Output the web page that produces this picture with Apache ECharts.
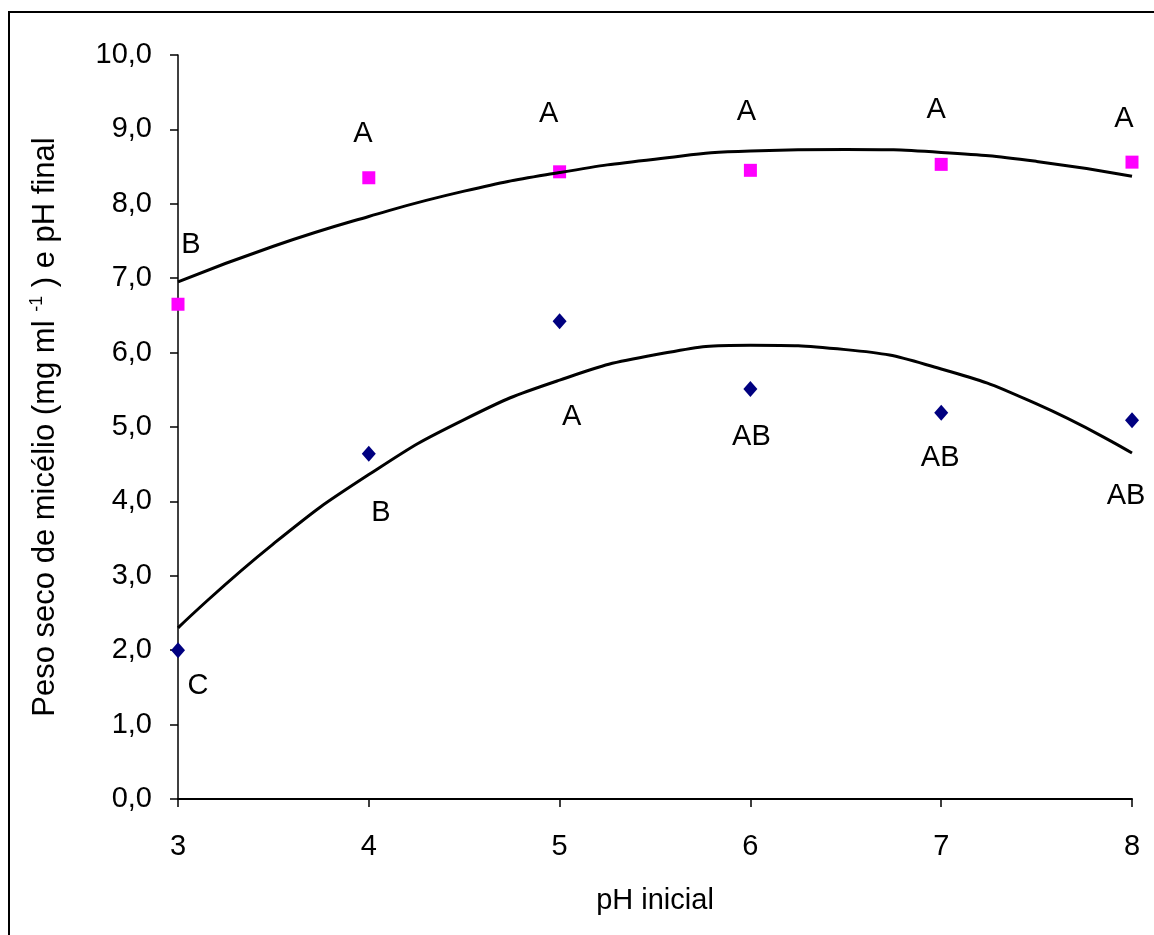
<!DOCTYPE html>
<html>
<head>
<meta charset="utf-8">
<script src="https://cdn.jsdelivr.net/npm/echarts/dist/echarts.min.js"></script>
<style>
  html, body { margin: 0; padding: 0; background: #fff; }
  #chart { width: 1154px; height: 935px; }
</style>
</head>
<body>
<div id="chart"></div>
<script>
// pH inicial (eixo x)
const phInicial = [3, 4, 5, 6, 7, 8]
// pH final (quadrados rosa)
const phFinal = [6.65, 8.35, 8.43, 8.45, 8.53, 8.56]
// peso seco de micélio (losangos azuis)
const pesoSeco = [2.0, 4.64, 6.42, 5.51, 5.19, 5.09]
// letras de significância
const letrasPh = ['B', 'A', 'A', 'A', 'A', 'A']
const letrasPeso = ['C', 'B', 'A', 'AB', 'AB', 'AB']
// curvas de tendência
const curvaX = [3, 3.5, 4, 4.5, 5, 5.5, 6, 6.5, 7, 7.5, 8]
const curvaPh = [6.95, 7.43, 7.83, 8.17, 8.42, 8.6, 8.71, 8.73, 8.69, 8.57, 8.37]
const curvaPeso = [2.3, 3.43, 4.36, 5.1, 5.63, 5.97, 6.1, 6.04, 5.78, 5.31, 4.65]

// label offsets (px) relative to each marker
const offPh = [[13, -59], [-6, -44], [-11, -58], [-4, -58], [-5, -54], [-8, -43]]
const offPeso = [[20, 36], [12, 59], [12, 96], [1, 48], [-1, 45], [-6, 76]]

const font = 'Liberation Sans, Arial, sans-serif'
const fs = 29

const chart = echarts.init(document.getElementById('chart'))

const labelStyle = {
  show: true,
  position: 'inside',
  color: '#000',
  fontFamily: font,
  fontSize: fs,
}

const option = {
  backgroundColor: '#fff',
  animation: false,
  graphic: [
    {
      type: 'rect',
      silent: true,
      z: -1,
      shape: { x: 9, y: 12, width: 1300, height: 1000 },
      style: { fill: 'none', stroke: '#000', lineWidth: 2 },
    },
  ],
  grid: { left: 178, right: 22, top: 55, bottom: 136 },
  xAxis: {
    type: 'value',
    min: 3,
    max: 8,
    interval: 1,
    name: 'pH inicial',
    nameLocation: 'middle',
    nameGap: 87,
    nameTextStyle: { color: '#000', fontFamily: font, fontSize: fs },
    splitLine: { show: false },
    axisLine: { onZero: false, lineStyle: { color: '#000', width: 2 } },
    axisTick: { show: true, length: 8, lineStyle: { color: '#000', width: 1.5 } },
    axisLabel: { color: '#000', fontFamily: font, fontSize: fs, margin: 33 },
  },
  yAxis: {
    type: 'value',
    min: 0,
    max: 10,
    interval: 1,
    name: 'Peso seco de micélio (mg ml {sup|-1} ) e pH final',
    nameLocation: 'middle',
    nameGap: 116,
    nameTextStyle: {
      color: '#000',
      fontFamily: font,
      fontSize: 31,
      lineHeight: 34,
      rich: {
        sup: { fontSize: 18, fontFamily: font, color: '#000', verticalAlign: 'top', lineHeight: 34, padding: [0, 0, 15, 0] },
      },
    },
    splitLine: { show: false },
    axisLine: { show: true, lineStyle: { color: '#000', width: 1.5 } },
    axisTick: { show: true, length: 8, lineStyle: { color: '#000', width: 1.5 } },
    axisLabel: {
      color: '#000',
      fontFamily: font,
      fontSize: fs,
      margin: 26,
      formatter: (v) => v.toFixed(1).replace('.', ','),
    },
  },
  series: [
    {
      type: 'scatter',
      clip: false,
      symbol: 'rect',
      symbolSize: 13,
      itemStyle: { color: '#ff00ff', opacity: 1 },
      label: { ...labelStyle, formatter: (p) => letrasPh[p.dataIndex] },
      data: phInicial.map((x, i) => ({ value: [x, phFinal[i]], label: { offset: offPh[i] } })),
    },
    {
      type: 'scatter',
      clip: false,
      symbol: 'diamond',
      symbolSize: [14, 16],
      itemStyle: { color: '#000080', opacity: 1 },
      label: { ...labelStyle, formatter: (p) => letrasPeso[p.dataIndex] },
      data: phInicial.map((x, i) => ({ value: [x, pesoSeco[i]], label: { offset: offPeso[i] } })),
    },
    {
      type: 'line',
      smooth: true,
      symbol: 'none',
      z: 3,
      lineStyle: { color: '#000', width: 3 },
      data: curvaX.map((x, i) => [x, curvaPh[i]]),
    },
    {
      type: 'line',
      smooth: true,
      symbol: 'none',
      z: 3,
      lineStyle: { color: '#000', width: 3 },
      data: curvaX.map((x, i) => [x, curvaPeso[i]]),
    },
  ],
}

chart.setOption(option)
</script>
</body>
</html>
